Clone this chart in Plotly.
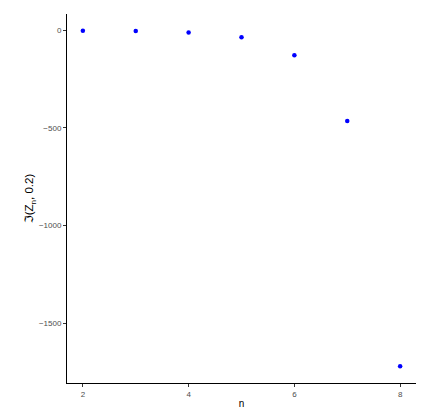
import plotly.graph_objects as go

n_vals = [2, 3, 4, 5, 6, 7, 8]
j_vals = [-3.6, -5, -12, -37, -129, -465, -1719]

fig = go.Figure()
fig.add_trace(go.Scatter(
    x=n_vals,
    y=j_vals,
    mode='markers',
    marker=dict(color='blue', size=4.5),
    showlegend=False
))

axis_common = dict(
    showgrid=False,
    zeroline=False,
    showline=True,
    linecolor='black',
    linewidth=1,
    ticks='outside',
    ticklen=3,
    tickcolor='#333333',
    tickfont=dict(family='Liberation Sans, Arial', size=8, color='#4d4d4d'),
)

# page body adds ~8px offset, so margins are shifted to compensate
fig.update_layout(
    width=432,
    height=414,
    margin=dict(l=59, r=24, t=6, b=39),
    paper_bgcolor='white',
    plot_bgcolor='white',
    xaxis=dict(
        range=[1.7, 8.3],
        tickvals=[2, 4, 6, 8],
        title=dict(text='n', font=dict(family='Liberation Sans, Arial', size=10, color='black'), standoff=2),
        **axis_common
    ),
    yaxis=dict(
        range=[-1805, 82],
        tickvals=[0, -500, -1000, -1500],
        ticktext=['0', '\u2212500', '\u22121000', '\u22121500'],
        title=dict(text='\u2111(Z<sub>n</sub>, 0.2)', font=dict(family='Liberation Sans, DejaVu Sans', size=11.5, color='black'), standoff=2),
        **axis_common
    ),
)

fig.write_html("out.html")
